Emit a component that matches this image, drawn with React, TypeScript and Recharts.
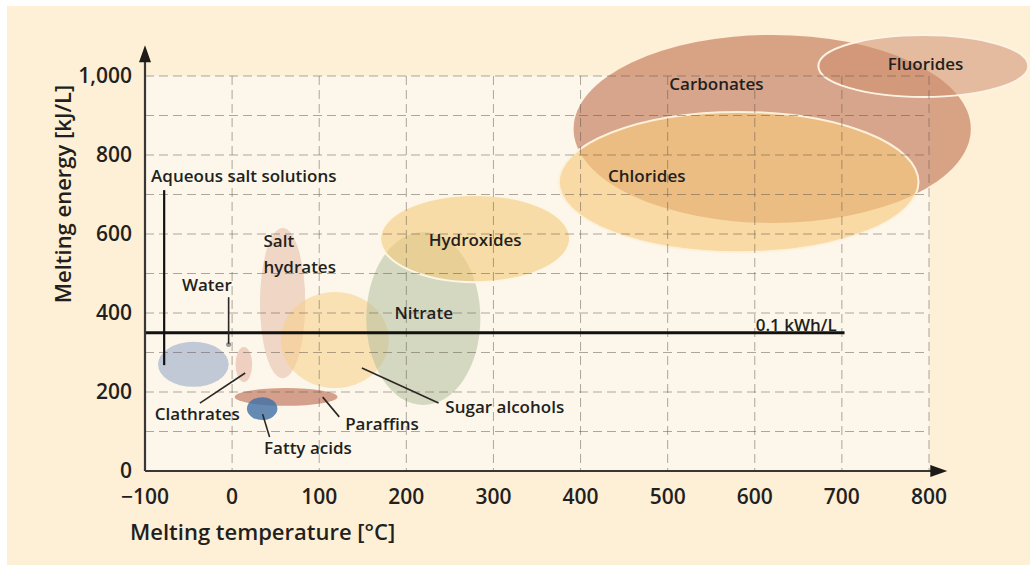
import {
  ComposedChart,
  XAxis,
  YAxis,
  CartesianGrid,
  ReferenceArea,
  ReferenceLine,
  ReferenceDot,
} from "recharts"

// storage material groups: melting temperature [°C] and melting energy [kJ/L] ranges
const groups = [
  "Aqueous salt solutions",
  "Clathrates",
  "Salt hydrates",
  "Sugar alcohols",
  "Nitrate",
  "Hydroxides",
  "Carbonates",
  "Chlorides",
  "Fluorides",
  "Paraffins",
  "Fatty acids",
  "Water",
]
const tempLow = [-85, 4, 32, 56, 154, 170, 392, 375, 673, 3, 17, -7]
const tempHigh = [-4, 23, 84, 180, 285, 388, 848, 788, 914, 121, 52, -1]
const energyLow = [213, 225, 235, 210, 167, 478, 628, 554, 947, 165, 129, 314]
const energyHigh = [327, 314, 615, 453, 605, 699, 1104, 909, 1104, 210, 187, 326]

// annotation texts
const labelText = [
  "Aqueous salt solutions",
  "Water",
  "Salt",
  "hydrates",
  "Clathrates",
  "Fatty acids",
  "Paraffins",
  "Sugar alcohols",
  "Nitrate",
  "Hydroxides",
  "Chlorides",
  "Carbonates",
  "Fluorides",
  "0.1 kWh/L",
]
const labelTemp = [-93, -29, 36, 36, -40, 87, 172, 313, 220, 279, 476, 556, 796, 694]
const labelEnergy = [747, 471, 582, 516, 144, 58, 119, 162, 400, 585, 747, 980, 1030, 370]
const labelAlign = ["start", "middle", "start", "start", "middle", "middle", "middle", "middle", "middle", "middle", "middle", "middle", "middle", "end"]

// leader lines
const leaderT1 = [-78, -4, -37, 43, 123, 149]
const leaderE1 = [711, 440, 172, 86, 137, 261]
const leaderT2 = [-78, -4, 15, 35, 104, 237]
const leaderE2 = [268, 322, 248, 144, 187, 172]

const threshold = 350 // 0.1 kWh/L
const thresholdEnd = 703

const xTicks = [-100, 0, 100, 200, 300, 400, 500, 600, 700, 800]
const yTicks = [0, 200, 400, 600, 800, 1000]
const gridX = [0, 100, 200, 300, 400, 500, 600, 700, 800]
const gridY = [100, 200, 300, 400, 500, 600, 700, 800, 900, 1000]
const xArrowTip = 821
const yArrowTip = 1078

const FONT = '"Open Sans", "Noto Sans", sans-serif'
const INK = "#231f20"

const groupStyle: Record<string, { fill: string; opacity: number; stroke?: string }> = {
  "Aqueous salt solutions": { fill: "#9aa8c8", opacity: 0.6 },
  Clathrates: { fill: "#e6b4a2", opacity: 0.6 },
  "Salt hydrates": { fill: "#e2b5a0", opacity: 0.5 },
  "Sugar alcohols": { fill: "#f7cf86", opacity: 0.55 },
  Nitrate: { fill: "#b5c09f", opacity: 0.55 },
  Hydroxides: { fill: "#f5c97a", opacity: 0.6, stroke: "#fdf6e6" },
  Carbonates: { fill: "#c78262", opacity: 0.7 },
  Chlorides: { fill: "#f8c97e", opacity: 0.65, stroke: "#fdf1dc" },
  Fluorides: { fill: "#cf8f70", opacity: 0.55, stroke: "#fdf3e4" },
  Paraffins: { fill: "#c47a62", opacity: 0.7 },
  "Fatty acids": { fill: "#3f6fa8", opacity: 0.8 },
  Water: { fill: "#8a8a8a", opacity: 0.9 },
}

const fmtX = (v: number) => (v < 0 ? `\u2212${Math.abs(v)}` : String(v))
const fmtY = (v: number) => v.toLocaleString("en-US")

function ellipseShape(name: string) {
  const s = groupStyle[name]
  return (p: any) => (
    <ellipse
      cx={p.x + p.width / 2}
      cy={p.y + p.height / 2}
      rx={Math.abs(p.width / 2)}
      ry={Math.abs(p.height / 2)}
      fill={s.fill}
      fillOpacity={s.opacity}
      stroke={s.stroke ?? "none"}
      strokeWidth={s.stroke ? 2 : 0}
    />
  )
}

function textShape(text: string, anchor: string) {
  return (p: any) => (
    <text
      x={p.cx}
      y={p.cy}
      dy="0.35em"
      textAnchor={anchor as any}
      fontSize={17}
      fontWeight={600}
      fontFamily={FONT}
      fill={INK}
    >
      {text}
    </text>
  )
}

function arrowLine(dir: "up" | "right") {
  return (p: any) => {
    const { x1, y1, x2, y2 } = p
    const head =
      dir === "up"
        ? `${x2},${y2} ${x2 - 6},${y2 + 17} ${x2 + 6},${y2 + 17}`
        : `${x2},${y2} ${x2 - 17},${y2 - 6} ${x2 - 17},${y2 + 6}`
    const ex = dir === "right" ? x2 - 12 : x2
    const ey = dir === "up" ? y2 + 12 : y2
    return (
      <g>
        <line x1={x1} y1={y1} x2={ex} y2={ey} stroke="#3a3633" strokeWidth={2.2} />
        <polygon points={head} fill="#1d1a18" />
      </g>
    )
  }
}

export default function App() {
  return (
    <div style={{ position: "relative", width: 1030, height: 570, background: "#ffffff", overflow: "hidden" }}>
      <style>{`body{margin:0}`}</style>
      <div
        style={{
          position: "absolute",
          left: 7,
          top: 6,
          width: 1023,
          height: 559,
          background: "#fdf0d7",
        }}
      />
      <div style={{ position: "absolute", left: 0, top: 0 }}>
        <ComposedChart
          width={1030}
          height={570}
          data={[]}
          margin={{ top: 76, right: 101, bottom: 69, left: 85 }}
        >
          <XAxis
            type="number"
            dataKey="t"
            domain={[-100, 800]}
            ticks={xTicks}
            allowDataOverflow
            tickFormatter={fmtX}
            axisLine={false}
            tickLine={false}
            tickSize={6}
            tickMargin={12}
            height={30}
            tick={{ fontSize: 21, fontWeight: 600, fill: INK, fontFamily: FONT }}
            interval={0}
          />
          <YAxis
            type="number"
            dataKey="e"
            domain={[0, 1000]}
            ticks={yTicks}
            allowDataOverflow
            tickFormatter={fmtY}
            axisLine={false}
            tickLine={false}
            tickSize={6}
            tickMargin={7}
            width={60}
            tick={{ fontSize: 21, fontWeight: 600, fill: INK, fontFamily: FONT }}
            interval={0}
          />

          {/* plot background */}
          <ReferenceArea
            x1={-100}
            x2={800}
            y1={0}
            y2={1000}
            ifOverflow="visible"
            fill="#fcf7ea"
            fillOpacity={1}
            stroke="none"
            zIndex={-200}
          />

          {groups.map((g, i) => (
            <ReferenceArea
              key={g}
              x1={tempLow[i]}
              x2={tempHigh[i]}
              y1={energyLow[i]}
              y2={energyHigh[i]}
              ifOverflow="visible"
              shape={ellipseShape(g)}
              zIndex={100}
            />
          ))}

          <CartesianGrid
            horizontalValues={gridY}
            verticalValues={gridX}
            stroke="rgba(95,85,75,0.5)"
            strokeWidth={1}
            strokeDasharray="9 5"
            fill="none"
            zIndex={200}
          />

          {/* 0.1 kWh/L threshold */}
          <ReferenceLine
            segment={[
              { x: -100, y: threshold },
              { x: thresholdEnd, y: threshold },
            ]}
            ifOverflow="visible"
            stroke="#111"
            strokeWidth={2.8}
            zIndex={300}
          />

          {leaderT1.map((t, i) => (
            <ReferenceLine
              key={`l${i}`}
              segment={[
                { x: t, y: leaderE1[i] },
                { x: leaderT2[i], y: leaderE2[i] },
              ]}
              ifOverflow="visible"
              stroke={i < 1 ? "#111" : "#2b2724"}
              strokeWidth={i < 1 ? 2.2 : 1.6}
              zIndex={300}
            />
          ))}

          {/* axes with arrows */}
          <ReferenceLine
            segment={[
              { x: -100, y: 0 },
              { x: -100, y: yArrowTip },
            ]}
            ifOverflow="visible"
            shape={arrowLine("up")}
            zIndex={350}
          />
          <ReferenceLine
            segment={[
              { x: -100, y: 0 },
              { x: xArrowTip, y: 0 },
            ]}
            ifOverflow="visible"
            shape={arrowLine("right")}
            zIndex={350}
          />

          {labelText.map((txt, i) => (
            <ReferenceDot
              key={`t${i}`}
              x={labelTemp[i]}
              y={labelEnergy[i]}
              r={0}
              ifOverflow="visible"
              shape={textShape(txt, labelAlign[i])}
              zIndex={400}
            />
          ))}
        </ComposedChart>
      </div>
      <div
        style={{
          position: "absolute",
          left: 62,
          top: 194,
          transform: "translate(-50%, -50%) rotate(-90deg)",
          whiteSpace: "nowrap",
          fontFamily: FONT,
          fontSize: 22,
          fontWeight: 600,
          color: INK,
        }}
      >
        Melting energy [kJ/L]
      </div>
      <div
        style={{
          position: "absolute",
          left: 130,
          top: 531,
          transform: "translateY(-50%)",
          whiteSpace: "nowrap",
          fontFamily: FONT,
          fontSize: 22,
          fontWeight: 600,
          color: INK,
        }}
      >
        Melting temperature [°C]
      </div>
    </div>
  )
}
